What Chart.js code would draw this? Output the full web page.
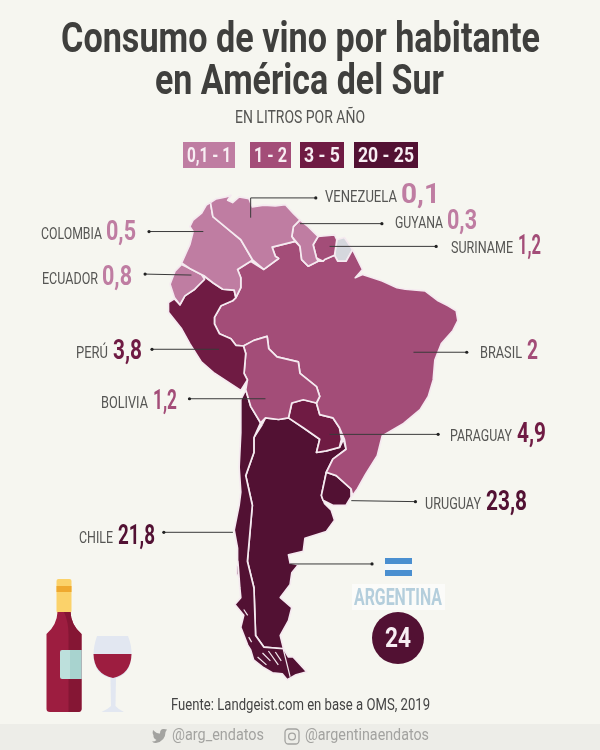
<!DOCTYPE html>
<html lang="es"><head><meta charset="utf-8">
<script src="https://cdn.jsdelivr.net/npm/chart.js@4"></script>
<style>html,body{margin:0;padding:0;background:#F6F6F0}canvas{display:block}</style>
</head><body>
<canvas id="c" width="600" height="750"></canvas>
<script>
const titleLines = ["Consumo de vino por habitante", "en América del Sur"];
const subtitleText = "EN LITROS POR AÑO";
const sourceText = "Fuente: Landgeist.com en base a OMS, 2019";
const twitterHandle = "@arg_endatos";
const instagramHandle = "@argentinaendatos";

const countries = ["VENEZUELA","GUYANA","SURINAME","COLOMBIA","ECUADOR","PERÚ","BOLIVIA","BRASIL","PARAGUAY","URUGUAY","CHILE","ARGENTINA"];
const litres = [0.1,0.3,1.2,0.5,0.8,3.8,1.2,2,4.9,23.8,21.8,24];
const binLabels = ["0,1 - 1","1 - 2","3 - 5","20 - 25"];
const binTops = [1,2.9,5,25];
const binColors = ["#BF7DA2","#A34D78","#6F1B43","#521133"];

const venezuelaShape = [[209.3,200.7],[215,197],[225,195],[230,193.3],[226.7,198.3],[231.7,200.7],[238.3,195],[248.3,196.7],[251.7,205],[263.3,203.3],[275,204],[285,202.7],[293.3,211.7],[300,218.3],[293.3,225],[291.7,235],[295,240],[271.7,245.7],[275,255],[278.3,257.3],[263.3,268.3],[251.7,258.3],[240,238.3],[230,230],[211.7,215]];
const colombiaShape = [[209.3,200.7],[205,203.3],[200,211.7],[191.7,218.3],[188.3,225],[191.7,230],[188.3,243.3],[180,261.7],[188.3,267.3],[200,273.3],[203.3,275],[211.7,281.7],[221.7,288.3],[233.3,289.3],[235,296.7],[240,286.7],[240,276.7],[236.7,268.3],[250,260],[251.7,258.3],[240,238.3],[230,230],[211.7,215]];
const ecuadorShape = [[180,263.3],[173.3,270],[168.3,283.3],[172.7,296.7],[178.3,304],[183.3,295],[193.3,288.3],[203.3,278.3],[200,273.3],[188.3,267.3]];
const peruShape = [[172.7,298],[166.7,301.7],[166.7,311.7],[180,328.3],[188.3,343.3],[200,361.7],[213.3,373.3],[240,390.7],[246.7,380],[243.3,373.3],[245,353.3],[242.7,345.7],[235,345],[230,338.3],[218.3,333.3],[213.3,323.3],[213.3,316.7],[220,305],[231.7,300],[235,296.7],[233.3,289.3],[221.7,288.3],[211.7,281.7],[203.3,275.7],[193.3,288.3],[183.3,295],[178.3,304]];
const boliviaShape = [[242.7,345.7],[253.3,340],[266.7,336],[268.3,348.3],[276.7,356.7],[298.3,361.7],[300,373.3],[316.7,386.7],[320,396.7],[316.7,403.3],[303.3,400],[291.7,403.3],[288.3,418.3],[278.3,420],[265,418.3],[260,423.3],[250,406.7],[245,390],[246.7,380],[243.3,373.3],[245,353.3]];
const brazilShape = [[235,296.7],[240,286.7],[240,276.7],[236.7,268.3],[250,260],[263.3,268.3],[278.3,257.3],[275,255],[271.7,245.7],[295,240],[300,245],[301.7,258.3],[308.3,265],[318.3,260],[323.3,260],[325,258.3],[335,254],[338.3,260],[346.7,260],[353.3,248.3],[363.3,268.3],[356,276.7],[363.3,273.3],[373.3,276.7],[383.3,280],[398.3,286.7],[406.7,288.3],[426.7,290],[440,300],[450,305],[458.3,310],[460,320],[455,330],[443.3,343.3],[436.7,360],[435,380],[430,396.7],[421.7,410],[405,424],[383.3,436.7],[378.3,456.7],[366.7,475],[358.3,490],[353.3,496.7],[351.7,490],[336.7,476.7],[326.7,473.3],[333.3,460],[346.7,450],[345,440],[340,428.3],[333.3,418.3],[320,415],[316.7,403.3],[320,396.7],[316.7,386.7],[300,373.3],[298.3,361.7],[276.7,356.7],[268.3,348.3],[266.7,336],[253.3,340],[242.7,345.7],[235,345],[230,338.3],[218.3,333.3],[213.3,323.3],[213.3,316.7],[220,305],[231.7,300]];
const paraguayShape = [[291.7,403.3],[303.3,400],[316.7,403.3],[320,415],[333.3,418.3],[340,428.3],[342,440],[340,448],[326.7,451.7],[316.7,453.3],[320,440],[303.3,428.3],[288.3,418.3]];
const argentinaShape = [[261.7,425],[265,418.3],[278.3,420],[288.3,418.3],[303.3,428.3],[320,440],[316.7,453.3],[326.7,451.7],[340,448.3],[344,440],[346.7,450],[333.3,460],[326.7,473.3],[321.7,496.7],[325,505],[331.7,511.7],[335,521.7],[326.7,533.3],[305,540],[303.3,553.3],[288.3,556.7],[290,565],[298.3,566.7],[291.7,575],[290,586.7],[280,600],[291.7,610],[288.3,623.3],[280,638.3],[283.3,651.7],[263.3,650],[255,638.3],[253.3,590],[246.7,563.3],[251.7,506.7],[245,476.7],[253.3,453.3],[253.3,438.3]];
const chileShape = [[245,390],[250,406.7],[260,423.3],[253.3,438.3],[253.3,453.3],[245,476.7],[251.7,506.7],[246.7,563.3],[253.3,590],[255,638.3],[263.3,650],[283.3,651.7],[288.3,660],[293,660],[307,675],[296,678],[287,683],[282,677],[272,676],[262,670],[253,663],[250,653],[247,648],[240,630],[243,618],[234,607],[240,600],[239,590],[237,563],[236.7,550],[233.3,531.7],[238.3,506.7],[240,493.3],[238.3,468.3],[240,433.3],[240,400]];
const chiloeShape = [[236,567],[239,568],[238,578],[236,577]];
const guyanaShape = [[300,218.3],[308.3,225],[318.3,235],[313.3,243.3],[316.7,256.7],[318.3,260],[308.3,265],[301.7,258.3],[300,245],[291.7,235],[293.3,225]];
const surinameShape = [[318.3,235],[335,233.3],[337.3,238.3],[335,254],[325,258.3],[323.3,260],[316.7,256.7],[313.3,243.3]];
const frenchGuianaShape = [[337.3,238.3],[345,236],[353.3,248.3],[346.7,260],[338.3,260],[335,254]];
const uruguayShape = [[326.7,473.3],[336.7,476.7],[351.7,490],[351.7,498.3],[346.7,506.7],[333.3,506.7],[323.3,501.7],[321.7,496.7]];
const fuegoCuts = [[[283,652],[290,680]],[[262,656],[270,664]],[[268,654],[278,668]],[[275,655],[281,664]],[[257,660],[266,668]],[[243,612],[247,618]],[[248,640],[251,645]]];

const leaderLines = [
 [[250,216],[250,196],[316,196]],[[300,222],[383,222]],[[330,245],[438,245]],
 [[202,230],[147,230]],[[190,274],[143,273]],[[218,349],[150,349]],[[265,399],[188,399]],
 [[415,352],[469,352]],[[330,435],[440,435]],[[352,502],[417,503]],[[232,534],[162,534]],[[290,566],[373,566]]
];

function binColor(v){ for(let i=0;i<binTops.length;i++){ if(v<=binTops[i]) return binColors[i]; } return binColors[3]; }
const pts = a => a.concat([a[0]]).map(p=>({x:p[0],y:p[1]}));
const numES = v => String(v).replace(".",",");
const FONT = 'Roboto,"DejaVu Sans",sans-serif';

const shapeByCountry = {VENEZUELA:venezuelaShape,GUYANA:guyanaShape,SURINAME:surinameShape,COLOMBIA:colombiaShape,ECUADOR:ecuadorShape,"PERÚ":peruShape,BOLIVIA:boliviaShape,BRASIL:brazilShape,PARAGUAY:paraguayShape,URUGUAY:uruguayShape,CHILE:chileShape,ARGENTINA:argentinaShape};
const BORDER = "#F5EAF0";
const datasets = [];
leaderLines.forEach(l=>datasets.push({data:l.map(p=>({x:p[0],y:p[1]})),showLine:true,borderColor:"#3A3A3A",borderWidth:1,
  pointRadius:l.map((p,i)=>i===l.length-1?1.6:0),pointBackgroundColor:"#222",pointBorderWidth:0,fill:false,tension:0}));
fuegoCuts.forEach(l=>datasets.push({data:l.map(p=>({x:p[0],y:p[1]})),showLine:true,borderColor:BORDER,borderWidth:1.2,pointRadius:0,fill:false}));
function shapeSet(shape,color){ return {data:pts(shape),showLine:true,fill:"shape",backgroundColor:color,borderColor:BORDER,borderWidth:1.7,borderJoinStyle:"round",pointRadius:0,tension:0}; }
countries.forEach((c,i)=>datasets.push(shapeSet(shapeByCountry[c],binColor(litres[i]))));
datasets.push(shapeSet(chiloeShape,binColors[3]));
datasets.push(shapeSet(frenchGuianaShape,"#D5D7DD"));

const labelPlace = {VENEZUELA:[325,397,198,401,440],GUYANA:[395,443,224,447,477],SURINAME:[451,513,249,518,541],COLOMBIA:[41,102,235,106,136],ECUADOR:[42,98,280,102,132],"PERÚ":[76,108,354,113,142],BOLIVIA:[101,148,404,153,177],BRASIL:[480,522,354,527,538],PARAGUAY:[450,512,437,517,546],URUGUAY:[425,481,505,486,527],CHILE:[79,113,539,118,155]};
const chipPlace = [[183,235],[250,291],[300,344],[354,418]];

const artPlugin = {id:"art",
 beforeDatasetsDraw(chart){
  const ctx=chart.ctx; ctx.save();
  ctx.fillStyle="#EDEDE8"; ctx.fillRect(0,724,600,26);
  ctx.restore();
 },
 afterDatasetsDraw(chart){
  const ctx=chart.ctx; ctx.save();
  ctx.textBaseline="middle"; ctx.textAlign="center";
  // title block
  ctx.fillStyle="#3F3F3D"; ctx.font='bold 43px '+FONT;
  ctx.fillText(titleLines[0],300.5,41,479);
  ctx.fillText(titleLines[1],299.5,83,289);
  ctx.fillStyle="#555553"; ctx.font='18px '+FONT;
  ctx.fillText(subtitleText,300,118.5,130);
  ctx.textAlign="left";
  // country labels
  countries.forEach((c,i)=>{
    const p=labelPlace[c]; if(!p) return;
    ctx.font='17px '+FONT; ctx.fillStyle="#555553"; ctx.fillText(c,p[0],p[2],p[1]-p[0]);
    ctx.font='bold 28px '+FONT; ctx.fillStyle=binColor(litres[i]); ctx.fillText(numES(litres[i]),p[3],p[2]-2,p[4]-p[3]);
  });
  // legend chips
  binLabels.forEach((t,i)=>{
    const [a,b]=chipPlace[i];
    ctx.fillStyle=binColors[i]; ctx.fillRect(a,142,b-a,26);
    ctx.fillStyle="#F8EEF3"; ctx.font='bold 21px '+FONT; ctx.textAlign="center";
    ctx.fillText(t,(a+b)/2,156.5,b-a-8);
  });
  // Argentina block
  ctx.fillStyle="#FBFBF9"; ctx.fillRect(352,584,93,26);
  ctx.fillStyle="#B4CEDC"; ctx.font='bold 24px '+FONT; ctx.textAlign="center";
  ctx.fillText("ARGENTINA",398,599,88);
  const ai=countries.indexOf("ARGENTINA");
  ctx.fillStyle=binColor(litres[ai]); ctx.beginPath(); ctx.arc(398,638,26,0,Math.PI*2); ctx.fill();
  ctx.fillStyle="#F8EEF3"; ctx.font='bold 28px '+FONT; ctx.fillText(numES(litres[ai]),398,640,26);
  // flag
  ctx.fillStyle="#4A8FD0"; ctx.fillRect(385,558,27,6); ctx.fillRect(385,570,27,6);
  ctx.fillStyle="#F4F8FB"; ctx.fillRect(385,564,27,6);
  // source and handles
  ctx.textAlign="left";
  ctx.fillStyle="#444"; ctx.font='17px '+FONT; ctx.fillText(sourceText,171,706,259);
  ctx.fillStyle="#A3A3A0"; ctx.font='17px '+FONT;
  ctx.fillText(twitterHandle,172,736,92); ctx.fillText(instagramHandle,305,736,124);
  // twitter bird
  ctx.fillStyle="#A3A3A0"; ctx.beginPath();
  ctx.moveTo(153,730);ctx.quadraticCurveTo(157,734,160,733.5);ctx.quadraticCurveTo(160,728.5,164,729);
  ctx.lineTo(167,729.5);ctx.lineTo(165.5,732);ctx.quadraticCurveTo(165.5,741,156,743);ctx.quadraticCurveTo(153.5,743,152,741.5);
  ctx.quadraticCurveTo(155,741.5,156.5,740);ctx.quadraticCurveTo(153,738,153.5,735.5);ctx.quadraticCurveTo(152,733,153,730);ctx.fill();
  // instagram
  ctx.strokeStyle="#A3A3A0"; ctx.lineWidth=1.3;
  ctx.beginPath(); ctx.roundRect(285,729,14,15,3.5); ctx.stroke();
  ctx.beginPath(); ctx.arc(292,736.5,3.4,0,Math.PI*2); ctx.stroke();
  // bottle
  ctx.fillStyle="#FBD26A"; ctx.beginPath(); ctx.roundRect(56.5,579,15,34,2); ctx.fill();
  ctx.fillStyle="#EFA92F"; ctx.fillRect(56.5,586,15,6);
  ctx.fillStyle="#9D1D40"; ctx.beginPath();
  ctx.moveTo(57.5,612);ctx.lineTo(70.5,612);ctx.quadraticCurveTo(71,625,81.5,634);ctx.lineTo(81.5,709);
  ctx.quadraticCurveTo(81.5,712,78,712);ctx.lineTo(50,712);ctx.quadraticCurveTo(46.5,712,46.5,709);ctx.lineTo(46.5,634);
  ctx.quadraticCurveTo(57,625,57.5,612);ctx.fill();
  ctx.fillStyle="#851634"; ctx.beginPath();
  ctx.moveTo(64,612);ctx.lineTo(70.5,612);ctx.quadraticCurveTo(71,625,81.5,634);ctx.lineTo(81.5,709);
  ctx.quadraticCurveTo(81.5,712,78,712);ctx.lineTo(68.5,712);ctx.lineTo(68.5,634);ctx.quadraticCurveTo(68.5,622,64,612);ctx.fill();
  ctx.fillStyle="#BDE0DC"; ctx.beginPath(); ctx.roundRect(60,650,21.5,29,[2,0,0,2]); ctx.fill();
  ctx.fillStyle="#A8D3CF"; ctx.fillRect(70,650,11.5,29);
  // glass
  ctx.fillStyle="#E2E7F1"; ctx.beginPath();
  ctx.moveTo(97,636);ctx.lineTo(128,636);ctx.quadraticCurveTo(132,646,131.5,655);ctx.quadraticCurveTo(130,675,116,678);
  ctx.lineTo(115.5,706);ctx.quadraticCurveTo(118,709,124,712);ctx.lineTo(101.5,712);ctx.quadraticCurveTo(108,709,111,706);
  ctx.lineTo(110.5,678);ctx.quadraticCurveTo(94,675,93.5,655);ctx.quadraticCurveTo(93.5,646,97,636);ctx.fill();
  ctx.fillStyle="#9D1D40"; ctx.beginPath();
  ctx.moveTo(93.5,654);ctx.lineTo(131.5,654);ctx.quadraticCurveTo(131,674,113,678);ctx.quadraticCurveTo(94,674,93.5,654);ctx.fill();
  ctx.restore();
 }
};

new Chart(document.getElementById("c"),{
 type:"scatter",
 data:{datasets},
 plugins:[artPlugin],
 options:{
  responsive:false,animation:false,devicePixelRatio:1,
  layout:{padding:0},
  scales:{x:{type:"linear",min:0,max:600,display:false},y:{type:"linear",min:0,max:750,reverse:true,display:false}},
  plugins:{legend:{display:false},tooltip:{enabled:false},title:{display:false}}
 }
});
</script>
</body></html>
